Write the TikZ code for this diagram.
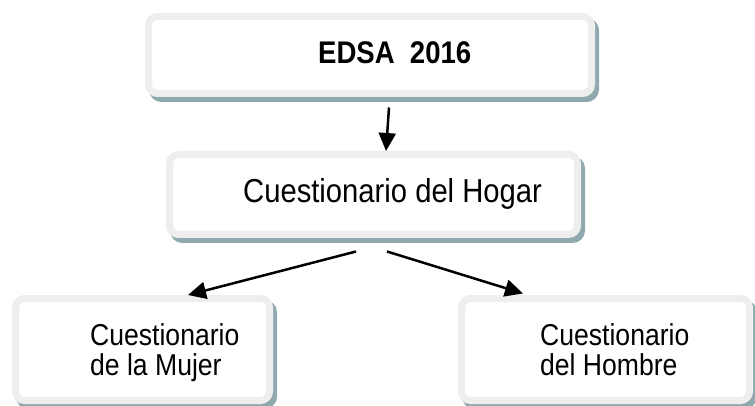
\documentclass[tikz,border=0pt]{standalone}
\usepackage{fontspec}
\setmainfont{Liberation Sans}
\usetikzlibrary{arrows.meta,shadows}

\definecolor{rimgray}{HTML}{EEEEEE}
\definecolor{shadowteal}{HTML}{8FA9AF}

\tikzset{
  panel/.style={rounded corners=9pt, draw=rimgray, line width=7pt, fill=white, inner sep=0pt,
    general shadow={draw=shadowteal, fill=shadowteal, line width=7pt, shadow xshift=4pt, shadow yshift=-5pt}},
  caption/.style={inner sep=0pt, xscale=0.88, transform shape, align=left},
  link/.style={line width=2.5pt, -{Triangle[length=18pt,width=17pt]}}
}

\begin{document}
\begin{tikzpicture}[x=1pt,y=-1pt]
    \useasboundingbox (0,0) rectangle (755,406);

    % boxes
    \node [panel, minimum width=443pt, minimum height=77pt] (edsa) at (370,55) {};
    \node [panel, minimum width=408pt, minimum height=80pt] (hogar) at (373.5,194.5) {};
    \node [panel, minimum width=254pt, minimum height=102pt] (mujer) at (142.5,349.5) {};
    \node [panel, minimum width=288pt, minimum height=102pt] (hombre) at (605.5,349.5) {};

    % texts (base = last line)
    \node [caption, anchor=base west, font=\fontsize{31.3}{36}\selectfont\bfseries] (edsatxt) at (318,64) {EDSA\ \ 2016};
    \node [caption, anchor=base west, font=\fontsize{33.2}{38}\selectfont] (hogartxt) at (243,203) {Cuestionario del Hogar};
    \node [caption, anchor=base west, font=\fontsize{30.2}{30}\selectfont] (mujertxt) at (90,375) {Cuestionario\\de la Mujer};
    \node [caption, anchor=base west, font=\fontsize{30.2}{30}\selectfont] (hombretxt) at (540,375) {Cuestionario\\del Hombre};

    % arrows
    \draw [link] ([xshift=19pt,yshift=-10.5pt]edsa.south) -- ([xshift=12.5pt]hogar.north);
    \draw [link] ([xshift=-17.5pt,yshift=-13.5pt]hogar.south) -- ([xshift=45.5pt]mujer.north);
    \draw [link] ([xshift=13.5pt,yshift=-13.5pt]hogar.south) -- ([xshift=-82.5pt,yshift=1.5pt]hombre.north);
\end{tikzpicture}
\end{document}
